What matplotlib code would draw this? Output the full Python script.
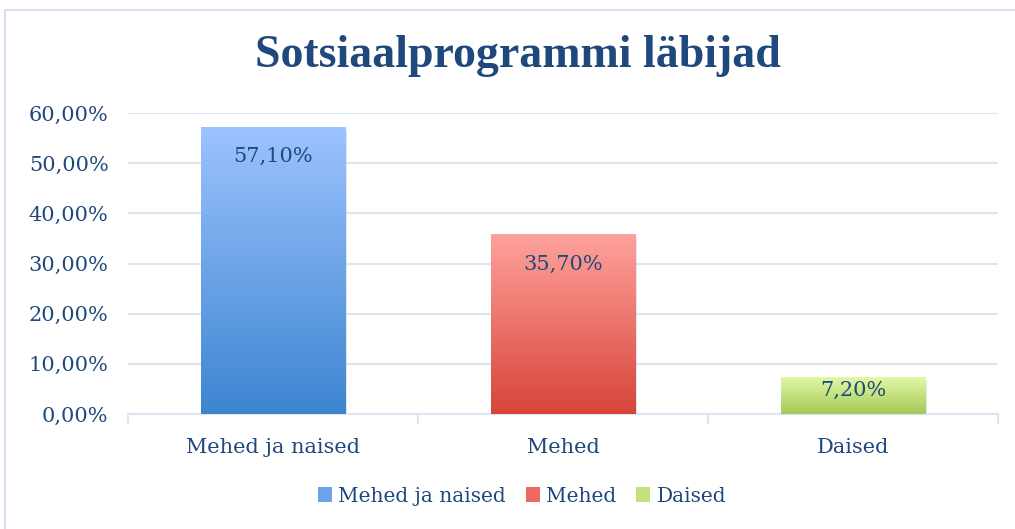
import numpy as np
import matplotlib

matplotlib.use('agg')

import matplotlib.pyplot as plt
from matplotlib.colors import LinearSegmentedColormap
from matplotlib.patches import Rectangle

categories = ['Mehed ja naised', 'Mehed', 'Daised']
values = [57.1, 35.7, 7.2]
labels = ['57,10%', '35,70%', '7,20%']
ticks = [0, 10, 20, 30, 40, 50, 60]
tick_labels = ['0,00%', '10,00%', '20,00%', '30,00%', '40,00%', '50,00%', '60,00%']

# top colour, bottom colour
gradients = [('#9cc3ff', '#3d85d0'), ('#ffa29c', '#d6453a'), ('#e2f8a6', '#a3c957')]
legend_cols = ['#6aa3ea', '#ec6a61', '#c3e27e']
text_col = '#1f497d'
grid_col = '#dce6f2'

plt.rcParams['font.family'] = ['DejaVu Serif']

fig = plt.figure(figsize=(10.15, 5.29), dpi=100)
fig.patches.append(Rectangle((5 / 1015, -0.1), 1.2, 1 - 10 / 529 + 0.1,
                             transform=fig.transFigure, fill=False,
                             edgecolor='#c9dbf0', linewidth=1.2))

ax = fig.add_axes([128 / 1015, 115 / 529, 870 / 1015, 301 / 529])
x = np.arange(len(categories))
bars = ax.bar(x, values, width=0.5, color='none', zorder=3)

for bar, (top, bottom), lab in zip(bars, gradients, labels):
    x0, y0 = bar.get_x(), bar.get_y()
    w, h = bar.get_width(), bar.get_height()
    # soft shadow
    ax.add_patch(Rectangle((x0 + 0.006, y0 - 0.4), w, h, color='#c8c8c8',
                           alpha=0.45, zorder=2, linewidth=0))
    cmap = LinearSegmentedColormap.from_list('g', [bottom, top])
    grad = np.linspace(0, 1, 256).reshape(-1, 1)
    ax.imshow(grad, cmap=cmap, origin='lower', aspect='auto',
              extent=(x0, x0 + w, y0, y0 + h), zorder=3)
    # inside end, pulled down into short bars
    ax.text(x0 + w / 2, y0 + max(h - 5.8, h * 0.64), lab, ha='center', va='center',
            color=text_col, fontsize=15, zorder=5)

ax.set_xlim(-0.5, len(categories) - 0.5)
ax.set_ylim(0, 60)
ax.set_yticks(ticks)
ax.set_yticklabels(tick_labels)
ax.set_xticks(x)
ax.set_xticklabels(categories)
ax.set_xticks(np.arange(len(categories) + 1) - 0.5, minor=True)
ax.tick_params(axis='x', which='major', length=0, pad=17, labelsize=15, labelcolor=text_col)
ax.tick_params(axis='x', which='minor', length=7, color=grid_col, width=1.5)
ax.tick_params(axis='y', length=0, pad=14, labelsize=15, labelcolor=text_col)
ax.grid(axis='y', color=grid_col, linewidth=1.5, zorder=0)
ax.set_axisbelow(True)
for side in ['top', 'right', 'left']:
    ax.spines[side].set_visible(False)
ax.spines['bottom'].set_color(grid_col)
ax.spines['bottom'].set_linewidth(1.5)

fig.text(518 / 1015, 1 - 56 / 529, 'Sotsiaalprogrammi läbijad', ha='center', va='center',
         fontsize=33, fontweight='bold', color=text_col, family='Liberation Serif')

# legend
handles = [Rectangle((0, 0), 1, 1, facecolor=c, edgecolor='none') for c in legend_cols]
leg = fig.legend(handles, categories, loc='center', bbox_to_anchor=(522 / 1015, 1 - 496 / 529),
                 ncol=3, frameon=False, fontsize=14.5, handlelength=0.7, handleheight=0.7,
                 handletextpad=0.3, columnspacing=1.0)
for t in leg.get_texts():
    t.set_color(text_col)

fig.savefig('out.png', dpi=100)
